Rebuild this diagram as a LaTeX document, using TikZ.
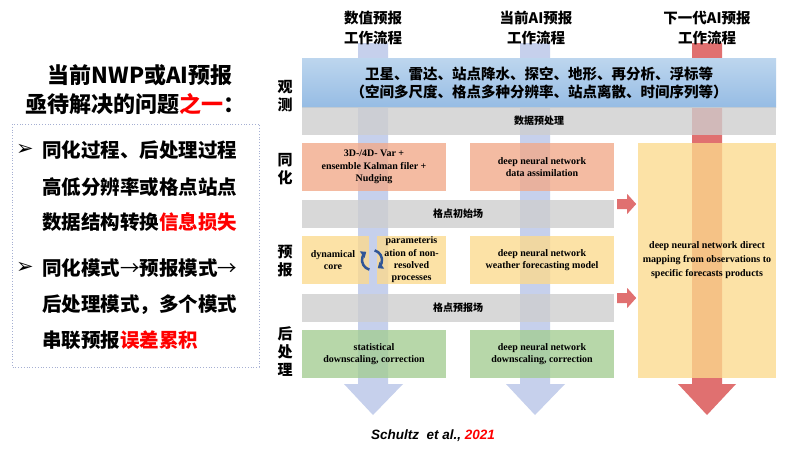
\documentclass[tikz,border=0pt]{standalone}
\usepackage{fontspec}
\setmainfont{Liberation Serif}
\newfontfamily\cjk{Noto Sans CJK SC}
\newfontfamily\dejavu{DejaVu Sans}
\newfontfamily\arialf{Liberation Sans}
\usetikzlibrary{arrows.meta}
\definecolor{shaftblue}{RGB}{198,208,236}
\definecolor{shaftred}{RGB}{224,112,112}
\definecolor{grayfill}{RGB}{206,206,206}
\definecolor{yellowfill}{RGB}{252,218,141}
\definecolor{salmonfill}{RGB}{242,169,137}
\definecolor{greenfill}{RGB}{163,205,146}
\definecolor{bandtop}{RGB}{189,214,238}
\definecolor{bandbot}{RGB}{150,188,228}
\definecolor{cyc}{RGB}{47,85,151}
\definecolor{dotc}{RGB}{165,175,210}
\tikzset{
  panel/.style={inner sep=0pt, fill opacity=0.78, text opacity=1, align=center},
  graybar/.style={panel, fill=grayfill, font=\cjk\bfseries\fontsize{10}{12}\selectfont},
  serifbox/.style={panel, font=\bfseries\fontsize{10}{12.3}\selectfont},
  hdr/.style={align=center, inner sep=0pt, font=\cjk\bfseries\fontsize{14.5}{20}\selectfont},
  rowlab/.style={align=center, inner sep=0pt, font=\cjk\bfseries\fontsize{15}{18}\selectfont},
  bigcjk/.style={anchor=west, inner sep=0pt, font=\cjk\bfseries\fontsize{19.5}{20}\selectfont},
  bulletmark/.style={inner sep=0pt, font=\dejavu\fontsize{21}{21}\selectfont},
  smallarrow/.style={fill=shaftred},
  cycarrow/.style={cyc, line width=2.5pt, -{Triangle[length=5pt,width=8pt]}}
}
\begin{document}
\begin{tikzpicture}[x=1pt,y=-1pt]
\useasboundingbox (0,0) rectangle (800,450);
\fill[white] (0,0) rectangle (800,450);

% ---------- left panel ----------
\node[inner sep=0pt, font=\cjk\bfseries\fontsize{22}{22}\selectfont] (title1) at (140,75) {当前NWP或AI预报};
\node[inner sep=0pt, font=\cjk\bfseries\fontsize{22}{22}\selectfont] (title2) at (135,104) {亟待解决的问题\textcolor{red}{之一}：};
\draw[dotc, dotted, line width=0.8pt] (12,124) rectangle (259,367);
\node[bulletmark] (m1) at (25,150) {➢};
\node[bigcjk] (b1) at (42,150) {同化过程、后处理过程};
\node[bigcjk] (b2) at (42,187) {高低分辨率或格点站点};
\node[bigcjk] (b3) at (42,222) {数据结构转换\textcolor{red}{信息损失}};
\node[bulletmark] (m2) at (25,268) {➢};
\node[bigcjk] (b4) at (42,268) {同化模式\textmd{→}预报模式\textmd{→}};
\node[bigcjk] (b5) at (42,305) {后处理模式，多个模式};
\node[bigcjk] (b6) at (42,340) {串联预报\textcolor{red}{误差累积}};

% ---------- big flow arrows (behind panels) ----------
\fill[shaftblue] (358,43) -- (388,43) -- (388,384) -- (403,384) -- (373,415) -- (344,384) -- (358,384) -- cycle;
\fill[shaftblue] (520,43) -- (550,43) -- (550,384) -- (565,384) -- (535,415) -- (506,384) -- (520,384) -- cycle;
\fill[shaftred] (692,43) -- (722,43) -- (722,384) -- (736,384) -- (707,415) -- (678,384) -- (692,384) -- cycle;

% ---------- column headers ----------
\node[hdr] (h1) at (373,28) {数值预报\\工作流程};
\node[hdr] (h2) at (536,28) {当前AI预报\\工作流程};
\node[hdr] (h3) at (707,28) {下一代AI预报\\工作流程};

% ---------- row labels ----------
\node[rowlab] (r1) at (285,96) {观\\测};
\node[rowlab] (r2) at (285,169) {同\\化};
\node[rowlab] (r3) at (285,261) {预\\报};
\node[rowlab] (r4) at (285,352) {后\\处\\理};

% ---------- bands and boxes ----------
\node[inner sep=0pt, align=center, minimum width=474pt, minimum height=49pt,
      top color=bandtop, bottom color=bandbot,
      font=\cjk\bfseries\fontsize{14.5}{18}\selectfont] (obs) at (539,82.5)
      {卫星、雷达、站点降水、探空、地形、再分析、浮标等\\（空间多尺度、格点多种分辨率、站点离散、时间序列等）};
\node[graybar, minimum width=474pt, minimum height=28pt] (pre) at (539,121) {数据预处理};

\node[serifbox, fill=salmonfill, minimum width=144pt, minimum height=48pt] (da1) at (374,167)
  {3D-/4D- Var +\\ensemble Kalman filer +\\Nudging};
\node[serifbox, fill=salmonfill, minimum width=144pt, minimum height=48pt] (da2) at (542,167)
  {deep neural network\\data assimilation};
\node[serifbox, fill=yellowfill, minimum width=138pt, minimum height=235pt, font=\bfseries\fontsize{10}{14}\selectfont] (big) at (707,260.5)
  {deep neural network direct\\mapping from observations to\\specific forecasts products};

\node[graybar, minimum width=312pt, minimum height=28pt] (init) at (458,214) {格点初始场};

\node[serifbox, fill=yellowfill, minimum width=67pt, minimum height=48pt] (fc1a) at (335.5,260) {};
\node[inner sep=0pt, align=center, font=\bfseries\fontsize{10}{12.3}\selectfont] (fc1at) at (333,260) {dynamical\\core};
\node[serifbox, fill=yellowfill, minimum width=69pt, minimum height=48pt] (fc1b) at (411.5,260)
  {parameteris\\ation of non-\\resolved\\processes};
\node[serifbox, fill=yellowfill, minimum width=144pt, minimum height=48pt] (fc2) at (542,260)
  {deep neural network\\weather forecasting model};

\node[graybar, minimum width=312pt, minimum height=28pt] (fcf) at (458,308) {格点预报场};

\node[serifbox, fill=greenfill, minimum width=144pt, minimum height=48pt] (pp1) at (374,354)
  {statistical\\downscaling, correction};
\node[serifbox, fill=greenfill, minimum width=144pt, minimum height=48pt] (pp2) at (542,354)
  {deep neural network\\downscaling, correction};

% ---------- cycle icon ----------
\coordinate (cy) at (372,260);
\draw[cycarrow] (cy) ++(105:10) arc (105:235:10);
\draw[cycarrow] (cy) ++(285:10) arc (285:415:10);

% ---------- small red arrows ----------
\fill[smallarrow] ([xshift=3pt,yshift=5pt]init.east) -- ++(10,0) -- ++(0,5) -- ++(9,-10) -- ++(-9,-10) -- ++(0,5) -- ++(-10,0) -- cycle;
\fill[smallarrow] ([xshift=3pt,yshift=5pt]fcf.east) -- ++(10,0) -- ++(0,5) -- ++(9,-10) -- ++(-9,-10) -- ++(0,5) -- ++(-10,0) -- cycle;

% ---------- citation ----------
\node[inner sep=0pt, font=\arialf\bfseries\itshape\fontsize{13.5}{14}\selectfont] (cite) at (433,436)
  {Schultz\ \ et al.,\ \textcolor{red}{2021}};
\end{tikzpicture}
\end{document}
